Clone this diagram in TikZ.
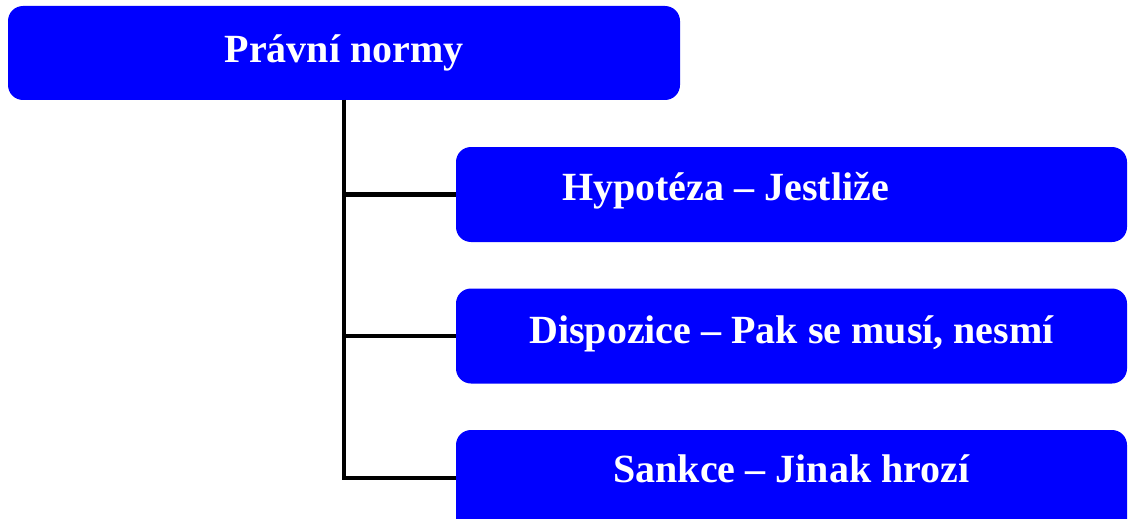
\documentclass[tikz,border=0pt]{standalone}
\usepackage{fontspec}
\setmainfont{Liberation Serif}
\begin{document}
\begin{tikzpicture}[x=1pt,y=-1pt,
  box/.style={rectangle, rounded corners=15pt, fill={rgb,255:red,0;green,0;blue,255},
    draw=none, inner sep=0pt, outer sep=0pt, text=white,
    font=\fontsize{40}{46}\selectfont\bfseries},
  conn/.style={draw=black, line width=4.5pt}]
  \useasboundingbox (0,0) rectangle (1128,519);
  % parent and the three parts of a legal norm
  \node[box, minimum width=672pt, minimum height=94pt,
    text height=19pt, text depth=0pt] (root) at (344,53) {Právní normy};
  \node[box, minimum width=671pt, minimum height=95pt,
    text height=11pt, text depth=0pt] (hyp) at (791.5,194.5)
    {Hypotéza – Jestliže\kern132pt};
  \node[box, minimum width=671pt, minimum height=95pt,
    text height=14pt, text depth=0pt] (dis) at (791.5,336)
    {Dispozice – Pak se musí, nesmí};
  \node[box, minimum width=671pt, minimum height=110pt,
    text height=0pt, text depth=6pt] (san) at (791.5,485)
    {Sankce – Jinak hrozí};
  % tree connectors; the last one meets the lowest box at its visible middle
  \draw[conn] (root.south) |- (hyp.west);
  \draw[conn] (root.south) |- (dis.west);
  \draw[conn] (root.south) |- ([yshift=7pt]san.west);
\end{tikzpicture}
\end{document}
